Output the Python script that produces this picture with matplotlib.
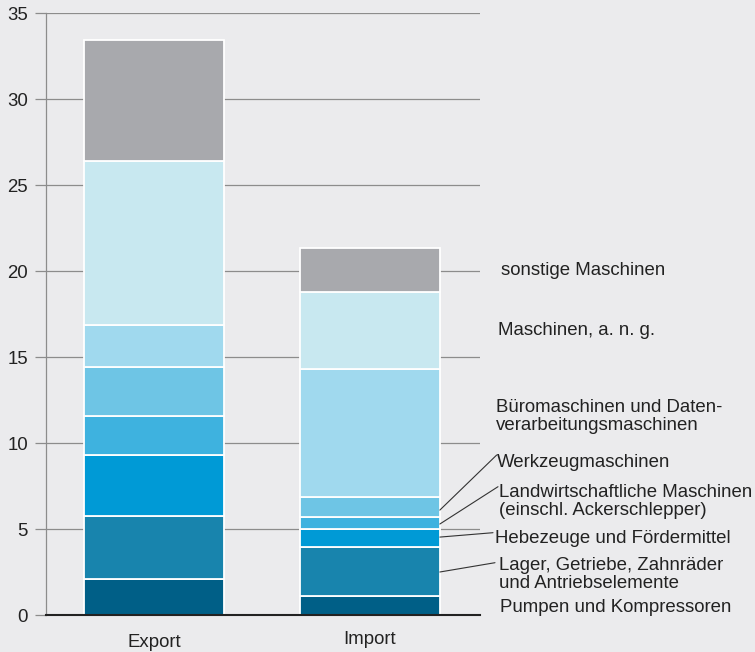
import matplotlib.pyplot as plt
import numpy as np

plt.rcParams['font.family'] = ['Liberation Sans', 'DejaVu Sans']

# Data (Mrd. EUR, stacked from bottom to top)
categories = ['Pumpen und Kompressoren',
              'Lager, Getriebe, Zahnräder\nund Antriebselemente',
              'Hebezeuge und Fördermittel',
              'Landwirtschaftliche Maschinen\n(einschl. Ackerschlepper)',
              'Werkzeugmaschinen',
              'Büromaschinen und Daten-\nverarbeitungsmaschinen',
              'Maschinen, a. n. g.',
              'sonstige Maschinen']
export_vals = [2.1, 3.65, 3.55, 2.25, 2.85, 2.45, 9.55, 7.05]
import_vals = [1.1, 2.83, 1.07, 0.68, 1.18, 7.44, 4.46, 2.56]
bar_labels = ['Export', 'Import']
colors = ['#005f87', '#1884ad', '#009ad6', '#3eb2df', '#6ec5e5',
          '#a0d9ee', '#c8e8f0', '#a8a9ad']

# label placement: left x (px), baselines (px, from top)
label_pos = [(500, [612.3]),
             (499, [570, 587.5]),
             (495, [543.3]),
             (499, [496.7, 515]),
             (497, [467.3]),
             (496, [412.3, 430.3]),
             (498, [335]),
             (501, [275])]
# leader lines: (segment y in data, text end in px)
leaders = {1: (2.5, (495, 562.7)),
           2: (4.53, (493, 532.7)),
           3: (5.29, (498, 486.7)),
           4: (6.1, (496.7, 455))}

W, H = 755, 652
bg = '#ebebed'
fig = plt.figure(figsize=(W / 100, H / 100), dpi=100, facecolor=bg)
ax = fig.add_axes([46 / W, (H - 615) / H, 434 / W, 602 / H], facecolor=bg)

x = np.arange(len(bar_labels))
width = 140 / 216
data = np.array([export_vals, import_vals]).T
bottom = np.zeros(len(bar_labels))
for vals, c in zip(data, colors):
    ax.bar(x, vals, width, bottom=bottom, color=c, edgecolor='white',
           linewidth=1.3, zorder=3)
    bottom += vals

ax.set_xlim(-0.5, 1.51)
ax.set_ylim(0, 35)
ax.set_yticks(np.arange(0, 36, 5))
ax.yaxis.grid(True, color='#8c8c8c', linewidth=0.9, zorder=0)
ax.set_axisbelow(True)
ax.tick_params(axis='y', length=8, width=0.9, color='#8c8c8c', pad=5,
               labelsize=13.4, labelcolor='#222222')
ax.set_xticks([])
for s in ['top', 'right']:
    ax.spines[s].set_visible(False)
ax.spines['left'].set_color('#8c8c8c')
ax.spines['left'].set_linewidth(0.9)
ax.spines['bottom'].set_color('#222222')
ax.spines['bottom'].set_linewidth(1.5)
ax.spines['bottom'].set_zorder(4)

# x labels
for xi, lab, base in zip(x, bar_labels, [646.7, 644]):
    px = ax.transData.transform((xi, 0))[0]
    fig.text(px / W, 1 - base / H, lab, ha='center', va='baseline',
             fontsize=13.4, color='#222222')

# category labels on the right
for lab, (px, bases) in zip(categories, label_pos):
    for line, b in zip(lab.split('\n'), bases):
        fig.text(px / W, 1 - b / H, line, ha='left', va='baseline',
                 fontsize=13.4, color='#222222')

edge = 1 + width / 2
for i, (yseg, (tx, ty)) in leaders.items():
    ax.annotate('', xy=(edge, yseg), xycoords='data',
                xytext=(tx, H - ty), textcoords='figure pixels',
                arrowprops=dict(arrowstyle='-', color='#333333', lw=0.8,
                                shrinkA=0, shrinkB=0),
                annotation_clip=False)

fig.savefig('out.png', dpi=100, facecolor=bg)
